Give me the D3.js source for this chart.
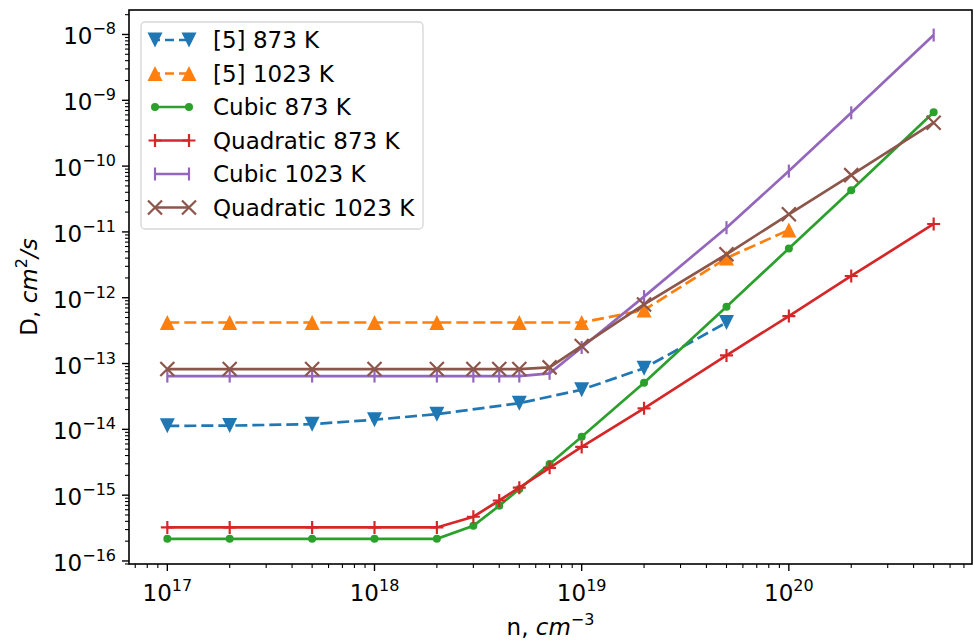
<!DOCTYPE html>
<html>
<head>
<meta charset="utf-8">
<script src="https://cdn.jsdelivr.net/npm/d3@7"></script>
<style>
    html, body { margin: 0; padding: 0; background: #fff; }
    svg { display: block; font-family: "DejaVu Sans", sans-serif; }
</style>
</head>
<body>
<svg id="chart" width="974" height="642"></svg>
<script>
// Diffusion coefficient vs carrier concentration, log-log

const nFull = [1e17, 2e17, 5e17, 1e18, 2e18, 3e18, 4e18, 5e18, 7e18, 1e19, 2e19, 5e19, 1e20, 2e20, 5e20];
const nRef873 = [1e17, 2e17, 5e17, 1e18, 2e18, 5e18, 1e19, 2e19, 5e19];
const nRef1023 = [1e17, 2e17, 5e17, 1e18, 2e18, 5e18, 1e19, 2e19, 5e19, 1e20];

const ref873 = [1.13e-14, 1.14e-14, 1.2e-14, 1.4e-14, 1.7e-14, 2.5e-14, 4.0e-14, 8.5e-14, 4.2e-13];
const ref1023 = [4.2e-13, 4.2e-13, 4.2e-13, 4.2e-13, 4.2e-13, 4.2e-13, 4.2e-13, 6.5e-13, 4.0e-12, 1.07e-11];
const cubic873 = [2.17e-16, 2.17e-16, 2.17e-16, 2.17e-16, 2.17e-16, 3.43e-16, 6.9e-16, 1.24e-15, 2.97e-15, 7.7e-15, 5.1e-14, 7.3e-13, 5.6e-12, 4.3e-11, 6.6e-10];
const quad873 = [3.23e-16, 3.23e-16, 3.23e-16, 3.23e-16, 3.23e-16, 4.7e-16, 8.3e-16, 1.30e-15, 2.6e-15, 5.4e-15, 2.09e-14, 1.33e-13, 5.27e-13, 2.14e-12, 1.32e-11];
const cubic1023 = [6.45e-14, 6.45e-14, 6.45e-14, 6.45e-14, 6.45e-14, 6.45e-14, 6.45e-14, 6.45e-14, 7.1e-14, 1.75e-13, 1.04e-12, 1.16e-11, 8.4e-11, 6.45e-10, 9.8e-9];
const quad1023 = [8.24e-14, 8.24e-14, 8.24e-14, 8.24e-14, 8.24e-14, 8.24e-14, 8.24e-14, 8.24e-14, 8.75e-14, 1.85e-13, 7.9e-13, 4.57e-12, 1.85e-11, 7.3e-11, 4.57e-10];

const xMajorTicks = [1e17, 1e18, 1e19, 1e20];
const xTickExps = ['17', '18', '19', '20'];
const yMajorTicks = [1e-16, 1e-15, 1e-14, 1e-13, 1e-12, 1e-11, 1e-10, 1e-9, 1e-8];
const yTickExps = ['\u221216', '\u221215', '\u221214', '\u221213', '\u221212', '\u221211', '\u221210', '\u22129', '\u22128'];

const series = [
    { label: '[5] 873 K', x: nRef873, y: ref873, color: '#1f77b4', dash: '12,5', marker: 'tri-down' },
    { label: '[5] 1023 K', x: nRef1023, y: ref1023, color: '#ff7f0e', dash: '12,5', marker: 'tri-up' },
    { label: 'Cubic 873 K', x: nFull, y: cubic873, color: '#2ca02c', dash: null, marker: 'circle' },
    { label: 'Quadratic 873 K', x: nFull, y: quad873, color: '#d62728', dash: null, marker: 'plus' },
    { label: 'Cubic 1023 K', x: nFull, y: cubic1023, color: '#9467bd', dash: null, marker: 'vline' },
    { label: 'Quadratic 1023 K', x: nFull, y: quad1023, color: '#8c564b', dash: null, marker: 'cross' }
];

const plot = { left: 129, right: 972, top: 10, bottom: 564 };
const fontSize = 23;
const supSize = 16;

const svg = d3.select('#chart');

const x = d3.scaleLog()
    .domain([Math.pow(10, 16.815), Math.pow(10, 20.884)])
    .range([plot.left, plot.right]);

const y = d3.scaleLog()
    .domain([Math.pow(10, -16.046), Math.pow(10, -7.628)])
    .range([plot.bottom, plot.top]);

function drawMarker(g, type, color) {
    if (type === 'tri-down') {
        g.append('path').attr('d', 'M-7.5,-7.5L7.5,-7.5L0,7.5Z').attr('fill', color);
    } else if (type === 'tri-up') {
        g.append('path').attr('d', 'M-7.5,7.5L7.5,7.5L0,-7.5Z').attr('fill', color);
    } else if (type === 'circle') {
        g.append('circle').attr('r', 4).attr('fill', color);
    } else if (type === 'plus') {
        g.append('path').attr('d', 'M-6.5,0H6.5M0,-6.5V6.5')
            .attr('stroke', color).attr('stroke-width', 2.2).attr('fill', 'none');
    } else if (type === 'vline') {
        g.append('path').attr('d', 'M0,-6.5V6.5')
            .attr('stroke', color).attr('stroke-width', 2.2).attr('fill', 'none');
    } else if (type === 'cross') {
        g.append('path').attr('d', 'M-7,-7L7,7M-7,7L7,-7')
            .attr('stroke', color).attr('stroke-width', 2.2).attr('fill', 'none');
    }
}

// Ticks (outward), minor ticks for log decades
function minorTicks(scale) {
    const [d0, d1] = scale.domain();
    const ticks = [];
    for (let e = Math.floor(Math.log10(d0)); e <= Math.ceil(Math.log10(d1)); e++) {
        for (let m = 2; m <= 9; m++) {
            const v = m * Math.pow(10, e);
            if (v >= d0 && v <= d1) ticks.push(v);
        }
    }
    return ticks;
}

const axes = svg.append('g');

axes.selectAll('.xminor').data(minorTicks(x)).join('line')
    .attr('x1', d => x(d)).attr('x2', d => x(d))
    .attr('y1', plot.bottom).attr('y2', plot.bottom + 4)
    .attr('stroke', '#000').attr('stroke-width', 1.1);

axes.selectAll('.xmajor').data(xMajorTicks).join('line')
    .attr('x1', d => x(d)).attr('x2', d => x(d))
    .attr('y1', plot.bottom).attr('y2', plot.bottom + 7)
    .attr('stroke', '#000').attr('stroke-width', 1.4);

axes.selectAll('.yminor').data(minorTicks(y)).join('line')
    .attr('y1', d => y(d)).attr('y2', d => y(d))
    .attr('x1', plot.left).attr('x2', plot.left - 4)
    .attr('stroke', '#000').attr('stroke-width', 1.1);

axes.selectAll('.ymajor').data(yMajorTicks).join('line')
    .attr('y1', d => y(d)).attr('y2', d => y(d))
    .attr('x1', plot.left).attr('x2', plot.left - 7)
    .attr('stroke', '#000').attr('stroke-width', 1.4);

// Tick labels as 10^n
const xLabels = axes.selectAll('.xlab').data(xMajorTicks).join('text')
    .attr('x', d => x(d)).attr('y', 601)
    .attr('text-anchor', 'middle')
    .attr('font-size', fontSize);
xLabels.append('tspan').text('10');
xLabels.append('tspan').attr('dy', -10).attr('font-size', supSize).text((d, i) => xTickExps[i]);

const yLabels = axes.selectAll('.ylab').data(yMajorTicks).join('text')
    .attr('x', 116).attr('y', d => y(d) + 10)
    .attr('text-anchor', 'end')
    .attr('font-size', fontSize);
yLabels.append('tspan').text('10');
yLabels.append('tspan').attr('dy', -10).attr('font-size', supSize).text((d, i) => yTickExps[i]);

// Axis titles
const xTitle = svg.append('text')
    .attr('x', (plot.left + plot.right) / 2).attr('y', 635)
    .attr('text-anchor', 'middle').attr('font-size', fontSize);
xTitle.append('tspan').text('n, ');
xTitle.append('tspan').attr('font-style', 'italic').text('cm');
xTitle.append('tspan').attr('dy', -10).attr('font-size', supSize).text('\u22123');

const yTitle = svg.append('text')
    .attr('transform', `translate(37,${(plot.top + plot.bottom) / 2}) rotate(-90)`)
    .attr('text-anchor', 'middle').attr('font-size', fontSize);
yTitle.append('tspan').text('D, ');
yTitle.append('tspan').attr('font-style', 'italic').text('cm');
yTitle.append('tspan').attr('dy', -10).attr('font-size', supSize).text('2');
yTitle.append('tspan').attr('dy', 10).attr('font-style', 'italic').text('/s');

// Series lines and markers
const line = d3.line().x(d => x(d[0])).y(d => y(d[1]));

series.forEach(s => {
    const pts = s.x.map((v, i) => [v, s.y[i]]);
    const g = svg.append('g');
    g.append('path')
        .attr('d', line(pts))
        .attr('fill', 'none')
        .attr('stroke', s.color)
        .attr('stroke-width', 2.7)
        .attr('stroke-dasharray', s.dash);
    pts.forEach(p => {
        const m = g.append('g').attr('transform', `translate(${x(p[0])},${y(p[1])})`);
        drawMarker(m, s.marker, s.color);
    });
});

// Frame
svg.append('rect')
    .attr('x', plot.left).attr('y', plot.top)
    .attr('width', plot.right - plot.left).attr('height', plot.bottom - plot.top)
    .attr('fill', 'none').attr('stroke', '#000').attr('stroke-width', 1.6);

// Legend
const legend = svg.append('g');
legend.append('rect')
    .attr('x', 141).attr('y', 22).attr('width', 282).attr('height', 207).attr('rx', 4)
    .attr('fill', '#fff').attr('fill-opacity', 0.85)
    .attr('stroke', '#d6d6d6').attr('stroke-width', 1.3);

series.forEach((s, i) => {
    const cy = 40 + i * 33.5;
    const row = legend.append('g');
    row.append('line')
        .attr('x1', 155).attr('x2', 189).attr('y1', cy).attr('y2', cy)
        .attr('stroke', s.color).attr('stroke-width', 2.7)
        .attr('stroke-dasharray', s.dash ? '9,5' : null)
        .attr('stroke-dashoffset', s.dash ? -10 : null);
    [155, 189].forEach(px => {
        drawMarker(row.append('g').attr('transform', `translate(${px},${cy})`), s.marker, s.color);
    });
    row.append('text')
        .attr('x', 213).attr('y', cy + 8)
        .attr('font-size', fontSize)
        .text(s.label);
});
</script>
</body>
</html>
